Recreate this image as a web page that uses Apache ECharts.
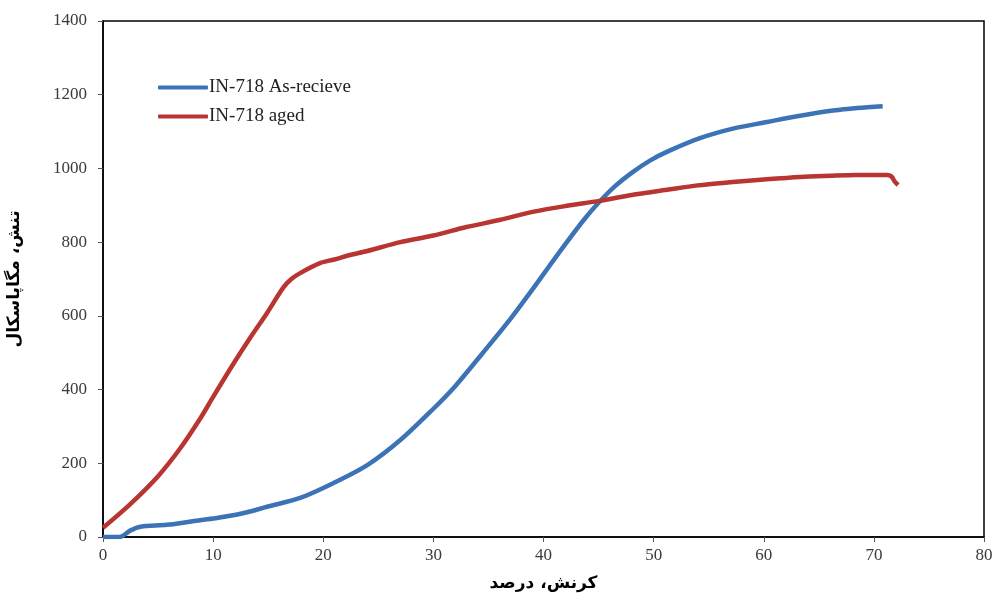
<!DOCTYPE html>
<html>
<head>
<meta charset="utf-8">
<script src="https://cdn.jsdelivr.net/npm/echarts@6/dist/echarts.min.js"></script>
<style>html,body{margin:0;padding:0;background:#fff}#c{width:994px;height:593px}</style>
</head>
<body>
<div id="c"></div>
<script>
const seriesNames = ['IN-718 As-recieve', 'IN-718 aged'];
const asRecStrain = [0, 1.5, 2.5, 3.4, 5.8, 8, 10, 12.5, 14.9, 17.9, 20.9, 24, 27, 30, 32, 34.5, 37, 39, 41.5, 43.6, 45.1, 46.5, 48.1, 49.7, 51.2, 54.2, 57.2, 60.3, 63.3, 66.3, 68.5, 70.8];
const asRecStress = [0, 0, 18, 28, 33, 42, 50, 63, 82, 106, 146, 195, 263, 348, 410, 500, 592, 672, 775, 858, 910, 952, 990, 1022, 1045, 1082, 1108, 1126, 1143, 1157, 1164, 1169];
const agedStrain = [0, 2.5, 5, 7, 8.8, 10, 11.8, 13.35, 14.9, 16.35, 17.1, 17.9, 19.7, 21, 22.4, 24, 27, 30, 33, 36, 39, 42, 45.1, 48, 51.2, 54, 57.2, 60, 63.3, 66, 68.4, 70, 71.2, 71.6, 71.9, 72.2];
const agedStress = [25, 90, 165, 240, 320, 380, 468, 540, 608, 676, 700, 716, 743, 753, 765, 776, 800, 818, 841, 860, 882, 898, 912, 928, 942, 954, 963, 970, 977, 980, 982, 982, 982, 978, 964, 955];
const xTicks = {min: 0, max: 80, interval: 10};
const yTicks = {min: 0, max: 1400, interval: 200};
const xTitle = 'کرنش، درصد';
const yTitle = 'تنش، مگاپاسکال';

const chart = echarts.init(document.getElementById('c'));
const pair = (xs, ys) => xs.map((x, i) => [x, ys[i]]);
const labelStyle = {fontFamily: 'Liberation Serif', fontSize: 17, color: '#3a3a3a', formatter: v => String(v)};
const nameStyle = {fontFamily: 'DejaVu Sans', fontWeight: 'bold', fontSize: 17, color: '#000'};
chart.setOption({
  animation: false,
  backgroundColor: '#fff',
  grid: {left: 103, right: 10, top: 21, bottom: 56, containLabel: false, outerBoundsMode: 'none',
         show: true, borderColor: '#000', borderWidth: 1.5},
  legend: {
    orient: 'vertical', left: 153, top: 73, itemWidth: 50, itemHeight: 4, itemGap: 10,
    icon: 'roundRect',
    textStyle: {fontFamily: 'Liberation Serif', fontSize: 19, color: '#222', padding: [0, 0, 0, -4]},
    data: seriesNames
  },
  xAxis: {
    type: 'value', min: xTicks.min, max: xTicks.max, interval: xTicks.interval,
    name: xTitle, nameLocation: 'middle', nameGap: 38, nameTextStyle: nameStyle,
    axisLine: {show: true, lineStyle: {color: '#000', width: 1.5}},
    axisTick: {show: true, inside: false, length: 5, lineStyle: {color: '#555'}},
    axisLabel: Object.assign({margin: 10}, labelStyle),
    splitLine: {show: false}
  },
  yAxis: {
    type: 'value', min: yTicks.min, max: yTicks.max, interval: yTicks.interval,
    name: yTitle, nameLocation: 'middle', nameGap: 80, nameRotate: 90, nameTextStyle: nameStyle,
    axisLine: {show: true, lineStyle: {color: '#000', width: 1.5}},
    axisTick: {show: true, inside: false, length: 5, lineStyle: {color: '#555'}},
    axisLabel: Object.assign({margin: 16}, labelStyle),
    splitLine: {show: false}
  },
  series: [
    {name: seriesNames[0], type: 'line', smooth: 0.3, symbol: 'none', data: pair(asRecStrain, asRecStress),
     lineStyle: {color: '#3C72B6', width: 4.5}, itemStyle: {color: '#3C72B6'}},
    {name: seriesNames[1], type: 'line', smooth: 0.3, symbol: 'none', data: pair(agedStrain, agedStress),
     lineStyle: {color: '#B83531', width: 4.5}, itemStyle: {color: '#B83531'}}
  ]
});
</script>
</body>
</html>
